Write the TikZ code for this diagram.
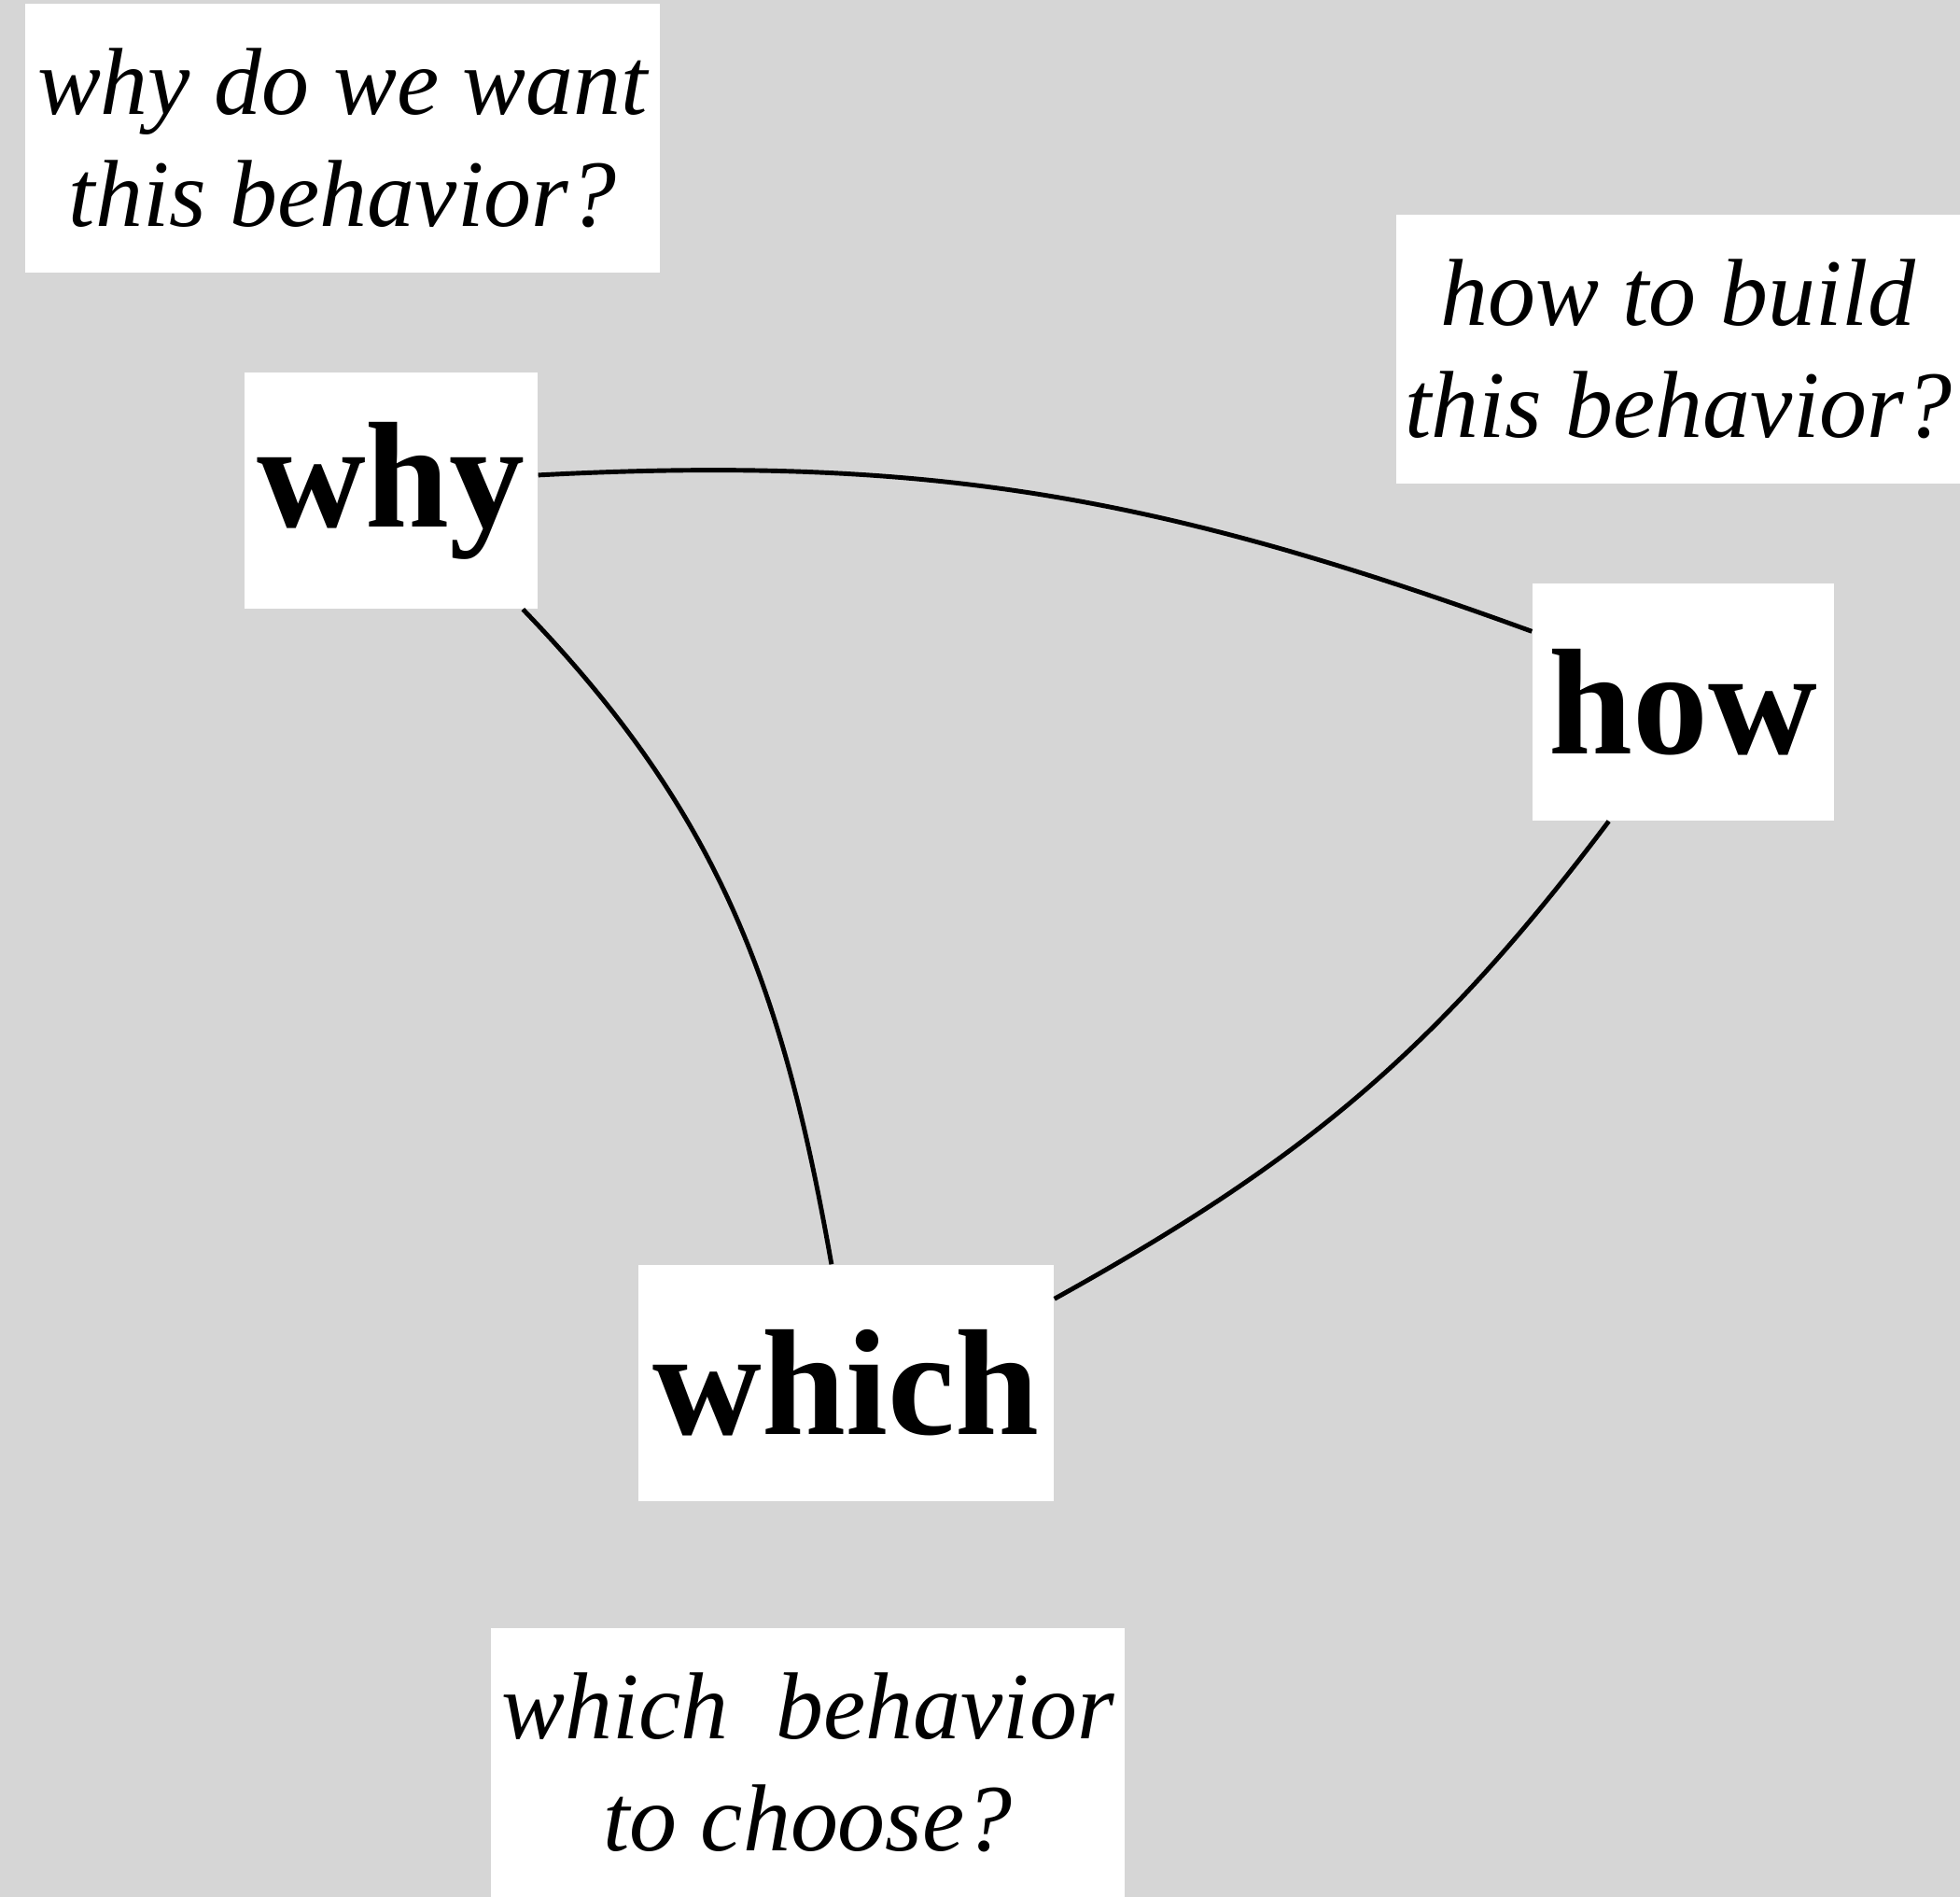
\documentclass[tikz,border=0pt]{standalone}
\usepackage{fontspec}
\setmainfont{Liberation Serif}
\definecolor{wwhgray}{HTML}{D6D6D6}

\begin{document}
\begin{tikzpicture}[
  wwhbox/.style = {fill=white, draw=none, inner sep=0pt},
  wwhword/.style = {wwhbox, font=\fontsize{46}{46}\selectfont\bfseries},
  wwhnote/.style = {wwhbox, align=center, minimum width=6.8cm, minimum height=2.88cm,
    font=\fontsize{29}{34}\selectfont\itshape},
  wwhlink/.style = {line width=1.4pt, black}
]
  % background
  \fill[wwhgray] (0,0) rectangle (21,20.32);
  \useasboundingbox (0,0) rectangle (21,20.32);
  % questions
  \node[wwhnote] (whynote) at (3.67,18.84) {why do we want\\this behavior?};
  \node[wwhnote, minimum width=6.04cm] (hownote) at (17.98,16.58) {how to build\\this behavior?};
  \node[wwhnote, minimum width=6.79cm] (whichnote) at (8.655,1.44) {which\ \ behavior\\to choose?};
  % the three words
  \node[wwhword, minimum width=3.14cm, minimum height=2.53cm] (why) at (4.19,15.065) {why};
  \node[wwhword, minimum width=3.23cm, minimum height=2.54cm] (how) at (18.035,12.80) {how};
  \node[wwhword, minimum width=4.45cm, minimum height=2.53cm] (which) at (9.065,5.505) {which};
  % links
  \draw[wwhlink] (why.6) to[out=3, in=160] (how.155);
  \draw[wwhlink] (why.-42) to[out=-46, in=100] (which.97);
  \draw[wwhlink] (which.22) to[out=29, in=233] (how.238);
\end{tikzpicture}
\end{document}
